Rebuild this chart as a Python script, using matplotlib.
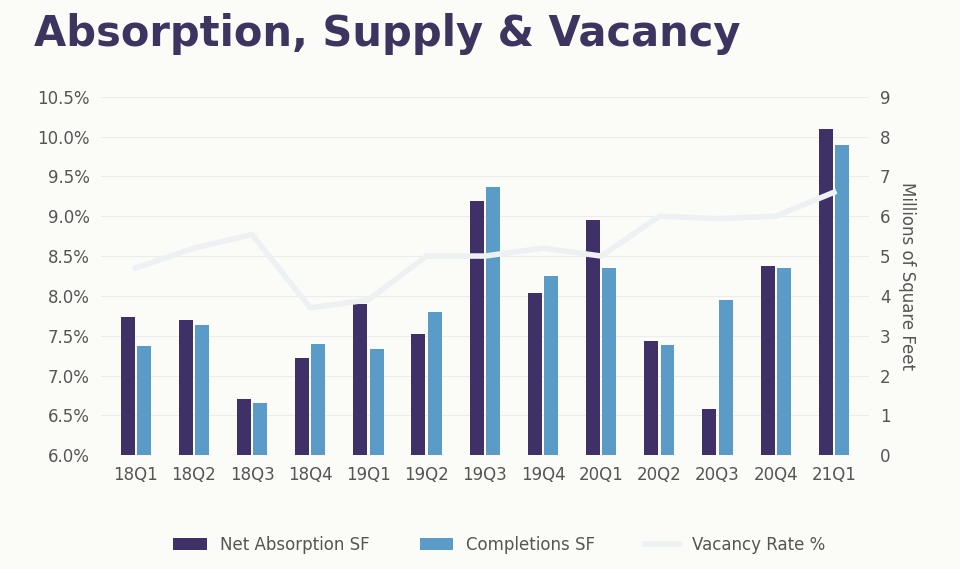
import numpy as np
import matplotlib.pyplot as plt

quarters = ["18Q1", "18Q2", "18Q3", "18Q4", "19Q1", "19Q2", "19Q3",
            "19Q4", "20Q1", "20Q2", "20Q3", "20Q4", "21Q1"]
net_absorption = [3.47, 3.39, 1.41, 2.44, 3.8, 3.04, 6.38, 4.07, 5.9, 2.86, 1.16, 4.74, 8.19]
completions = [2.74, 3.27, 1.31, 2.8, 2.66, 3.6, 6.73, 4.5, 4.7, 2.76, 3.9, 4.7, 7.79]
vacancy = [8.35, 8.6, 8.77, 7.85, 7.95, 8.5, 8.5, 8.6, 8.5, 9.0, 8.97, 9.0, 9.3]

bg = "#fbfbf8"
text_c = "#555555"
fig = plt.figure(figsize=(9.6, 5.69), dpi=100, facecolor=bg)
ax = fig.add_axes([0.105, 0.2, 0.8, 0.63], facecolor=bg)
ax2 = ax.twinx()

x = np.arange(len(quarters))
w = 0.24
ax2.grid(axis="y", color="#ececec", lw=0.8, zorder=0)
ax2.set_axisbelow(True)
ax2.bar(x - 0.14, net_absorption, w, color="#3f3168", label="Net Absorption SF", zorder=2)
ax2.bar(x + 0.14, completions, w, color="#5b9bc8", label="Completions SF", zorder=2)
ax.plot(x, vacancy, color="#eef1f4", lw=4, label="Vacancy Rate %", zorder=3)

ax.set_ylim(6.0, 10.5)
ax.set_yticks(np.arange(6.0, 10.51, 0.5))
ax.set_yticklabels([f"{v:.1f}%" for v in np.arange(6.0, 10.51, 0.5)])
ax2.set_ylim(0, 9)
ax2.set_yticks(range(10))
ax2.set_ylabel("Millions of Square Feet", color=text_c, fontsize=12, rotation=270, labelpad=18)
ax.set_xticks(x)
ax.set_xticklabels(quarters)
ax.set_xlim(-0.6, len(quarters) - 0.4)
ax.set_zorder(ax2.get_zorder() + 1)
ax.patch.set_visible(False)
ax2.patch.set_facecolor(bg)
for a in (ax, ax2):
    for s in a.spines.values():
        s.set_visible(False)
    a.tick_params(length=0, labelsize=12, colors=text_c, pad=8)

fig.text(0.035, 0.92, "Absorption, Supply & Vacancy", fontsize=30, color="#3d3560",
         fontweight="semibold")
h1, l1 = ax2.get_legend_handles_labels()
h2, l2 = ax.get_legend_handles_labels()
fig.legend(h1 + h2, l1 + l2, loc="lower center", ncol=3, frameon=False,
           fontsize=12, labelcolor=text_c, bbox_to_anchor=(0.52, 0.0), columnspacing=3)
fig.savefig("out.png", dpi=100, facecolor=bg)
